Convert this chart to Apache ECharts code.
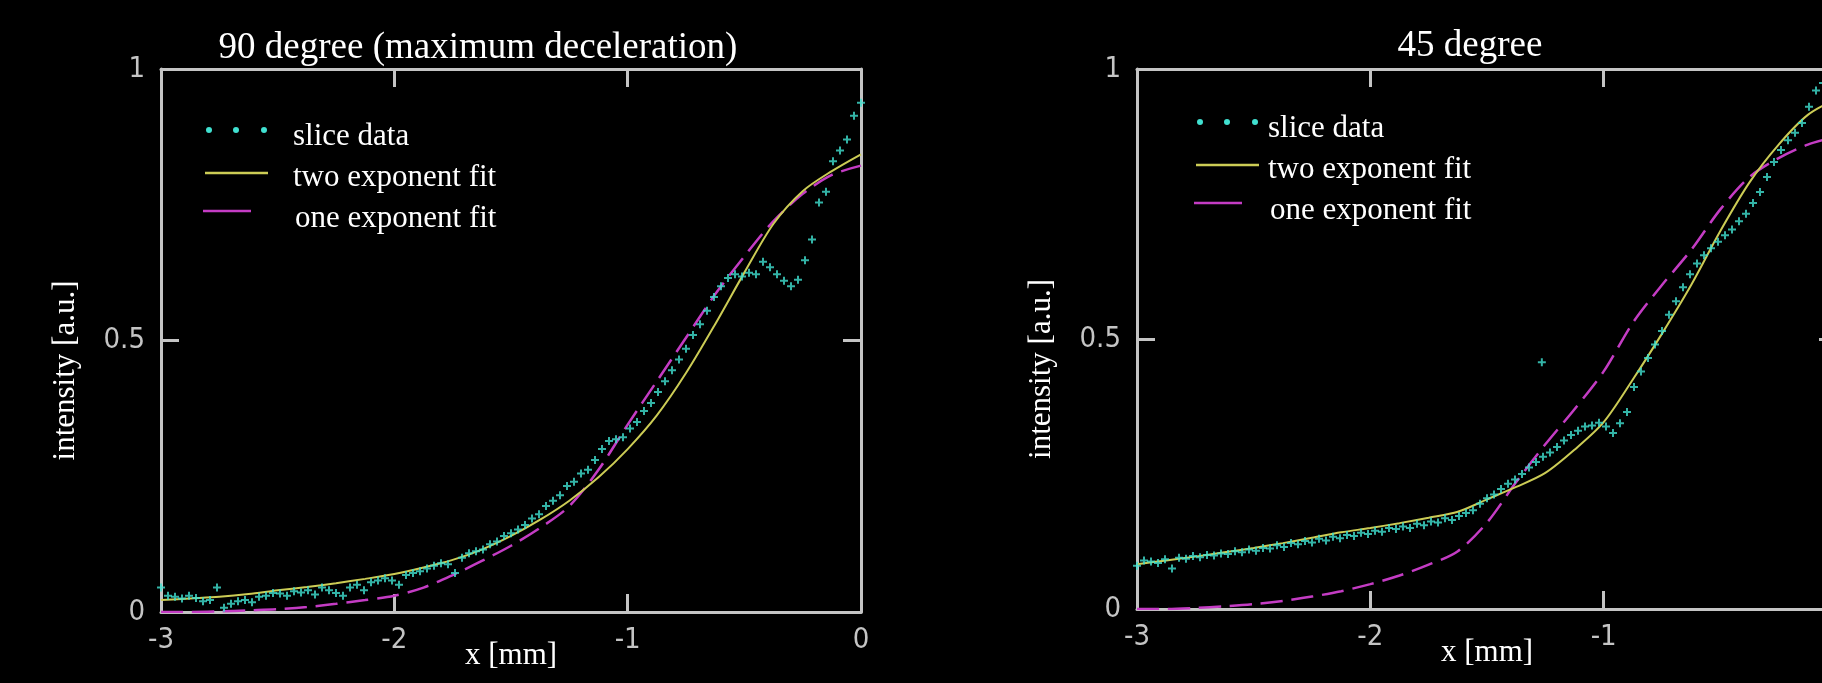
<!DOCTYPE html>
<html>
<head>
<meta charset="utf-8">
<script src="https://cdn.jsdelivr.net/npm/echarts@6/dist/echarts.min.js"></script>
<style>
  html, body { margin: 0; padding: 0; background: #000; }
  #chart { width: 1822px; height: 683px; }
</style>
</head>
<body>
<div id="chart"></div>
<script>
// x positions of the fitted curves
const fitX = [-3, -2.875, -2.75, -2.625, -2.5, -2.375, -2.25, -2.125, -2, -1.875, -1.75, -1.625, -1.5,
  -1.375, -1.25, -1.125, -1, -0.875, -0.75, -0.625, -0.5, -0.375, -0.25, -0.125, 0]

// 90 degree panel
const twoFit90 = [0.022, 0.025, 0.028, 0.033, 0.040, 0.046, 0.053, 0.061, 0.070, 0.082, 0.096, 0.115, 0.140,
  0.170, 0.205, 0.248, 0.300, 0.362, 0.440, 0.530, 0.625, 0.715, 0.775, 0.812, 0.843]
const oneFit90 = [0.0, 0.0, 0.001, 0.003, 0.005, 0.009, 0.015, 0.022, 0.030, 0.045, 0.068, 0.094, 0.122,
  0.155, 0.195, 0.262, 0.345, 0.425, 0.505, 0.585, 0.655, 0.720, 0.770, 0.805, 0.822]
const slice90 = [
  [-3.00, 0.045], [-2.97, 0.030], [-2.94, 0.028], [-2.91, 0.025], [-2.88, 0.030], [-2.85, 0.026],
  [-2.82, 0.020], [-2.79, 0.022], [-2.76, 0.045], [-2.73, 0.008], [-2.70, 0.015], [-2.67, 0.020],
  [-2.64, 0.022], [-2.61, 0.018], [-2.58, 0.028], [-2.55, 0.030], [-2.52, 0.035], [-2.49, 0.034],
  [-2.46, 0.030], [-2.43, 0.038], [-2.40, 0.036], [-2.37, 0.040], [-2.34, 0.032], [-2.31, 0.045],
  [-2.28, 0.040], [-2.25, 0.035], [-2.22, 0.030], [-2.19, 0.045], [-2.16, 0.050], [-2.13, 0.040],
  [-2.10, 0.055], [-2.07, 0.058], [-2.04, 0.062], [-2.01, 0.058], [-1.98, 0.050], [-1.95, 0.068],
  [-1.92, 0.072], [-1.89, 0.075], [-1.86, 0.080], [-1.83, 0.085], [-1.80, 0.090], [-1.77, 0.088],
  [-1.74, 0.072], [-1.71, 0.100], [-1.68, 0.108], [-1.65, 0.112], [-1.62, 0.115], [-1.59, 0.125],
  [-1.56, 0.130], [-1.53, 0.140], [-1.50, 0.145], [-1.47, 0.152], [-1.44, 0.160], [-1.41, 0.172],
  [-1.38, 0.180], [-1.35, 0.195], [-1.32, 0.205], [-1.29, 0.215], [-1.26, 0.232], [-1.23, 0.240],
  [-1.20, 0.255], [-1.17, 0.262], [-1.14, 0.280], [-1.11, 0.300], [-1.08, 0.315], [-1.05, 0.318],
  [-1.02, 0.322], [-0.99, 0.338], [-0.96, 0.350], [-0.93, 0.370], [-0.90, 0.385], [-0.87, 0.405],
  [-0.84, 0.425], [-0.81, 0.445], [-0.78, 0.465], [-0.75, 0.485], [-0.72, 0.510], [-0.69, 0.530],
  [-0.66, 0.555], [-0.63, 0.580], [-0.60, 0.600], [-0.57, 0.615], [-0.54, 0.622], [-0.51, 0.618],
  [-0.48, 0.625], [-0.45, 0.622], [-0.42, 0.645], [-0.39, 0.635], [-0.36, 0.622], [-0.33, 0.610],
  [-0.30, 0.600], [-0.27, 0.612], [-0.24, 0.648], [-0.21, 0.686], [-0.18, 0.754], [-0.15, 0.774],
  [-0.12, 0.830], [-0.09, 0.850], [-0.06, 0.870], [-0.03, 0.914], [0.00, 0.938]
]

// 45 degree panel
const twoFit45 = [0.083, 0.090, 0.097, 0.105, 0.113, 0.122, 0.132, 0.142, 0.150, 0.159, 0.169, 0.180, 0.203,
  0.226, 0.252, 0.295, 0.346, 0.425, 0.510, 0.600, 0.700, 0.790, 0.860, 0.915, 0.945]
const oneFit45 = [0.0, 0.0, 0.002, 0.005, 0.009, 0.015, 0.023, 0.033, 0.046, 0.062, 0.082, 0.107, 0.160,
  0.235, 0.305, 0.370, 0.440, 0.530, 0.600, 0.665, 0.740, 0.800, 0.835, 0.860, 0.875]
const slice45 = [
  [-3.00, 0.080], [-2.97, 0.090], [-2.94, 0.088], [-2.91, 0.085], [-2.88, 0.092], [-2.85, 0.075],
  [-2.82, 0.095], [-2.79, 0.093], [-2.76, 0.098], [-2.73, 0.096], [-2.70, 0.100], [-2.67, 0.099],
  [-2.64, 0.103], [-2.61, 0.102], [-2.58, 0.107], [-2.55, 0.105], [-2.52, 0.110], [-2.49, 0.108],
  [-2.46, 0.113], [-2.43, 0.112], [-2.40, 0.118], [-2.37, 0.115], [-2.34, 0.122], [-2.31, 0.120],
  [-2.28, 0.126], [-2.25, 0.123], [-2.22, 0.130], [-2.19, 0.127], [-2.16, 0.134], [-2.13, 0.131],
  [-2.10, 0.137], [-2.07, 0.135], [-2.04, 0.141], [-2.01, 0.139], [-1.98, 0.145], [-1.95, 0.143],
  [-1.92, 0.150], [-1.89, 0.148], [-1.86, 0.153], [-1.83, 0.150], [-1.80, 0.158], [-1.77, 0.155],
  [-1.74, 0.162], [-1.71, 0.160], [-1.68, 0.168], [-1.65, 0.165], [-1.62, 0.172], [-1.59, 0.178],
  [-1.56, 0.183], [-1.53, 0.195], [-1.50, 0.205], [-1.47, 0.212], [-1.44, 0.222], [-1.41, 0.232],
  [-1.38, 0.240], [-1.35, 0.250], [-1.32, 0.262], [-1.29, 0.272], [-1.265, 0.457], [-1.26, 0.282],
  [-1.23, 0.290], [-1.20, 0.300], [-1.17, 0.312], [-1.14, 0.322], [-1.11, 0.330], [-1.08, 0.338],
  [-1.05, 0.340], [-1.02, 0.345], [-0.99, 0.338], [-0.96, 0.326], [-0.93, 0.344], [-0.90, 0.365],
  [-0.87, 0.411], [-0.84, 0.440], [-0.81, 0.465], [-0.78, 0.490], [-0.75, 0.515], [-0.72, 0.545],
  [-0.69, 0.570], [-0.66, 0.596], [-0.63, 0.620], [-0.60, 0.640], [-0.57, 0.655], [-0.54, 0.668],
  [-0.51, 0.680], [-0.48, 0.692], [-0.45, 0.703], [-0.42, 0.718], [-0.39, 0.732], [-0.36, 0.752],
  [-0.33, 0.772], [-0.30, 0.800], [-0.27, 0.828], [-0.24, 0.850], [-0.21, 0.868], [-0.18, 0.882],
  [-0.15, 0.900], [-0.12, 0.930], [-0.09, 0.960], [-0.06, 0.974], [-0.03, 0.985], [0.00, 0.995]
]

const panelTitles = ['90 degree (maximum deceleration)', '45 degree']
const legendNames = ['slice data', 'two exponent fit', 'one exponent fit']

const AXIS = '#c4c4c4'
const CYAN = '#40e0d0'
const YELLOW = '#cccc55'
const MAGENTA = '#c43cc4'
const SERIF = '"Liberation Serif", "Times New Roman", serif'
const NARROW = '"Liberation Sans Narrow", "DejaVu Sans Condensed", sans-serif'

const chart = echarts.init(document.getElementById('chart'))

const axisLine = { onZero: false, lineStyle: { color: AXIS, width: 3 } }
const axisTick = { inside: true, length: 18, lineStyle: { color: AXIS, width: 3 } }

function xAxes(grid) {
  return [
    {
      gridIndex: grid, type: 'value', min: -3, max: 0, interval: 1, position: 'bottom',
      axisLine, axisTick,
      axisLabel: { color: AXIS, fontFamily: NARROW, fontSize: 29, margin: 14 },
      splitLine: { show: false },
      name: 'x [mm]', nameLocation: 'middle', nameGap: 28, nameMoveOverlap: false,
      nameTextStyle: { color: '#fff', fontFamily: SERIF, fontSize: 31 }
    },
    {
      gridIndex: grid, type: 'value', min: -3, max: 0, interval: 1, position: 'top',
      axisLine, axisTick, axisLabel: { show: false }, splitLine: { show: false }
    }
  ]
}

function yAxes(grid) {
  return [
    {
      gridIndex: grid, type: 'value', min: 0, max: 1, interval: 0.5, position: 'left',
      axisLine, axisTick,
      axisLabel: { color: AXIS, fontFamily: NARROW, fontSize: 29, margin: 16 },
      splitLine: { show: false },
      name: 'intensity [a.u.]', nameLocation: 'middle', nameGap: 80, nameRotate: 90,
      nameMoveOverlap: false,
      nameTextStyle: { color: '#fff', fontFamily: SERIF, fontSize: 31, padding: [0, 60, 0, 0] }
    },
    {
      gridIndex: grid, type: 'value', min: 0, max: 1, interval: 0.5, position: 'right',
      axisLine, axisTick, axisLabel: { show: false }, splitLine: { show: false }
    }
  ]
}

function panelSeries(grid, slice, twoFit, oneFit) {
  const ax = grid * 2
  return [
    {
      type: 'line', xAxisIndex: ax, yAxisIndex: ax, smooth: 0.3, showSymbol: false,
      data: fitX.map((x, i) => [x, oneFit[i]]),
      lineStyle: { color: MAGENTA, width: 2.5, type: [22, 9] }, z: 3
    },
    {
      type: 'line', xAxisIndex: ax, yAxisIndex: ax, smooth: 0.3, showSymbol: false,
      data: fitX.map((x, i) => [x, twoFit[i]]),
      lineStyle: { color: YELLOW, width: 2 }, z: 4
    },
    {
      type: 'scatter', xAxisIndex: ax, yAxisIndex: ax, data: slice,
      symbol: 'path://M3,0H5V3H8V5H5V8H3V5H0V3H3Z', symbolSize: 8,
      itemStyle: { color: CYAN }, z: 5
    }
  ]
}

function legendGraphic(ox, oy, dx) {
  // ox, oy: start of the symbol column; dx: offset to the text column
  const els = []
  ;[0, 27, 55].forEach(d => els.push({
    type: 'circle', shape: { cx: ox + 4 + d, cy: oy, r: 3 }, style: { fill: CYAN }
  }))
  els.push({ type: 'line', shape: { x1: ox, y1: oy + 43, x2: ox + 63, y2: oy + 43 },
    style: { stroke: YELLOW, lineWidth: 2.5 } })
  els.push({ type: 'line', shape: { x1: ox - 2, y1: oy + 81, x2: ox + 46, y2: oy + 81 },
    style: { stroke: MAGENTA, lineWidth: 2.5 } })
  legendNames.forEach((name, i) => els.push({
    type: 'text', x: ox + dx + (i === 2 ? 2 : 0), y: oy + 7 + i * 41,
    style: { text: name, fill: '#fff', font: '31px ' + SERIF, textVerticalAlign: 'middle' }
  }))
  return els
}

const option = {
  backgroundColor: '#000',
  animation: false,
  grid: [
    { left: 161, top: 69, width: 700, height: 543, outerBoundsMode: 'none', containLabel: false },
    { left: 1137, top: 69, width: 700, height: 540, outerBoundsMode: 'none', containLabel: false }
  ],
  xAxis: [...xAxes(0), ...xAxes(1)],
  yAxis: [...yAxes(0), ...yAxes(1)],
  series: [
    ...panelSeries(0, slice90, twoFit90, oneFit90),
    ...panelSeries(1, slice45, twoFit45, oneFit45)
  ],
  graphic: [
    { type: 'text', x: 478, y: 48,
      style: { text: panelTitles[0], fill: '#fff', font: '37px ' + SERIF, textAlign: 'center', textVerticalAlign: 'middle' } },
    { type: 'text', x: 1470, y: 46,
      style: { text: panelTitles[1], fill: '#fff', font: '37px ' + SERIF, textAlign: 'center', textVerticalAlign: 'middle' } },
    ...legendGraphic(205, 130, 88),
    ...legendGraphic(1196, 122, 72)
  ]
}

chart.setOption(option)
</script>
</body>
</html>
